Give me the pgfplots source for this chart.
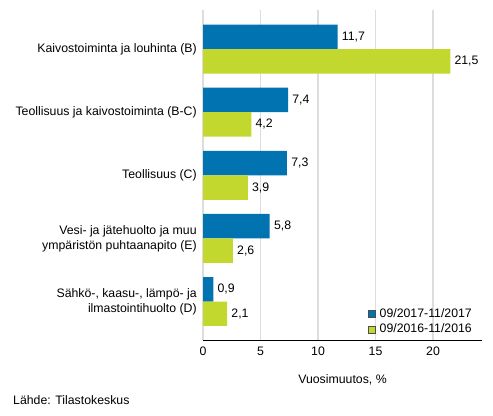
\documentclass[border=0pt]{standalone}
\usepackage{fontspec}
\setmainfont{Liberation Sans}
\usepackage{pgfplots}
\pgfplotsset{compat=1.18}

\definecolor{sblue}{RGB}{0,115,176}
\definecolor{sgreen}{RGB}{194,216,46}
\definecolor{gridgray}{RGB}{221,221,221}

\begin{document}
\fontsize{12.3bp}{14bp}\selectfont
\begin{tikzpicture}
\useasboundingbox (0,0) rectangle (493bp,416bp);
\begin{axis}[
    at={(203bp,76bp)}, anchor=south west,
    scale only axis,
    width=279bp, height=330bp,
    xbar,
    y dir=reverse,
    bar width=0.388,
    xmin=0, xmax=24.26,
    ymin=-0.62, ymax=4.61,
    xtick={0,5,10,15,20},
    ytick={0,1,2,3,4},
    yticklabels={{Kaivostoiminta ja louhinta (B)},
                 {Teollisuus ja kaivostoiminta (B-C)},
                 {Teollisuus (C)},
                 {Vesi- ja jätehuolto ja muu\\ympäristön puhtaanapito (E)},
                 {Sähkö-, kaasu-, lämpö- ja\\ilmastointihuolto (D)}},
    yticklabel style={align=right, font=\fontsize{12.3bp}{15bp}\selectfont, xshift=-2bp},
    xticklabel style={font=\fontsize{12.3bp}{14bp}\selectfont, yshift=-3bp},
    /pgf/number format/assume math mode=true,
    major tick length=0pt,
    xmajorgrids=true,
    grid style={gridgray, line width=1.2pt},
    axis x line*=bottom,
    axis y line*=left,
    x axis line style={black, line width=0.8pt, -},
    y axis line style={draw=none},
    xlabel={Vuosimuutos, \%},
    xlabel style={font=\fontsize{12.3bp}{14bp}\selectfont, yshift=-10bp},
    nodes near coords,
    nodes near coords style={font=\fontsize{12.3bp}{14bp}\selectfont, black,
        /pgf/number format/.cd, use comma, fixed, fixed zerofill, precision=1,
        assume math mode=true},
    legend style={at={(1,0)}, anchor=south east, xshift=-5bp, yshift=1bp,
        draw=none, fill=none, font=\fontsize{12.3bp}{14bp}\selectfont,
        row sep=1bp, cells={anchor=west}},
    legend image code/.code={
        \path[#1, draw=black!70, line width=0.5pt] (0bp,-3.5bp) rectangle (7bp,3.5bp);
        \path (9bp,0bp);},
]
\addplot[fill=sblue, draw=none, bar shift=-0.194] coordinates {
    (11.7,0) (7.4,1) (7.3,2) (5.8,3) (0.9,4)
};
\addlegendentry{09/2017-11/2017}
\addplot[fill=sgreen, draw=none, bar shift=0.194] coordinates {
    (21.5,0) (4.2,1) (3.9,2) (2.6,3) (2.1,4)
};
\addlegendentry{09/2016-11/2016}
\end{axis}
\node[anchor=west, inner sep=0pt] at (13bp,16bp) {Lähde: Tilastokeskus};
\end{tikzpicture}
\end{document}
